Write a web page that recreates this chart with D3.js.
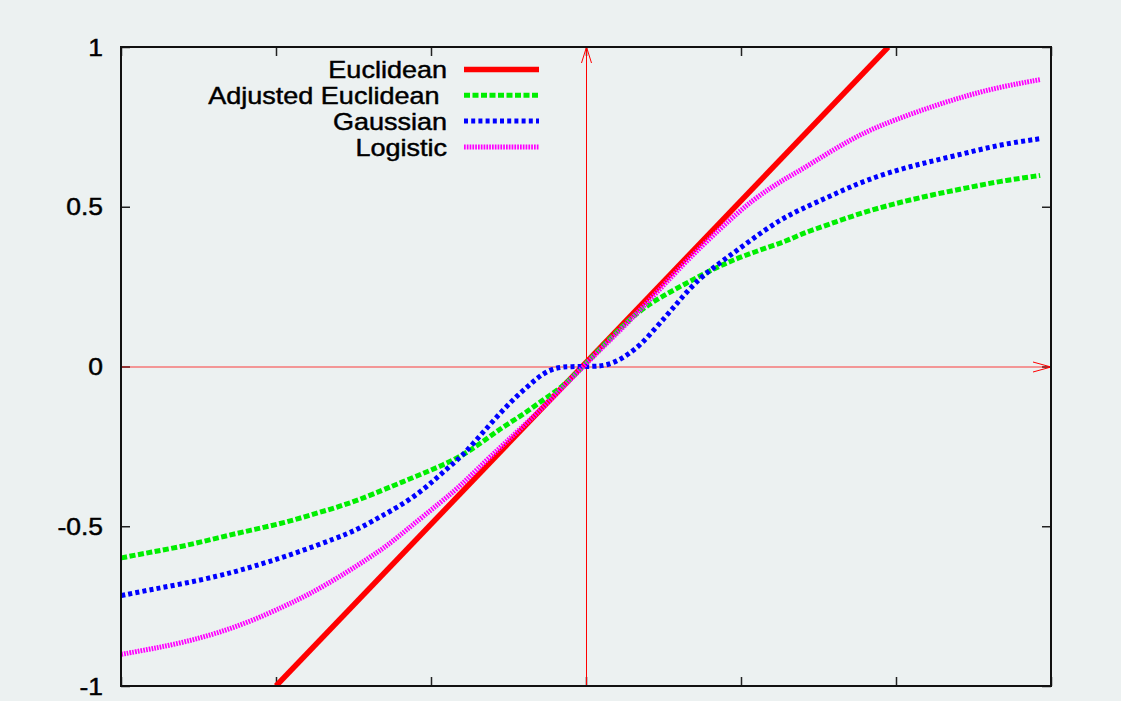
<!DOCTYPE html>
<html>
<head>
<meta charset="utf-8">
<script src="https://cdn.jsdelivr.net/npm/d3@7"></script>
<style>
  body { margin: 0; background: #ecf1f1; }
  svg { display: block; }
  text { font-family: "Liberation Sans", Arial, sans-serif; fill: #000; stroke: #000; stroke-width: 0.45; }
</style>
</head>
<body>
<svg class="chart"></svg>
<script>
// values
var seriesNames = ["Euclidean", "Adjusted Euclidean ", "Gaussian", "Logistic"];

var euclidean = [[-2.0, -1], [1.95, 1]];

var adjusted = [
  [-2.998, -0.599], [-2.805, -0.581], [-2.59, -0.562], [-2.374, -0.536], [-2.159, -0.512],
  [-1.944, -0.489], [-1.729, -0.458], [-1.514, -0.427], [-1.312, -0.387], [-1.183, -0.361],
  [-1.054, -0.335], [-0.925, -0.309], [-0.795, -0.278], [-0.666, -0.236], [-0.537, -0.189],
  [-0.409, -0.152], [-0.28, -0.105], [-0.15, -0.064], [-0.02, 0], [0.215, 0.118],
  [0.323, 0.165], [0.43, 0.202], [0.538, 0.232], [0.645, 0.26], [0.753, 0.288],
  [0.86, 0.314], [0.968, 0.337], [1.075, 0.356], [1.183, 0.375], [1.29, 0.392],
  [1.381, 0.413], [1.484, 0.431], [1.596, 0.45], [1.81, 0.486], [2.026, 0.514],
  [2.24, 0.538], [2.456, 0.559], [2.67, 0.58], [2.93, 0.598]
];

var gaussian = [
  [-2.998, -0.717], [-2.805, -0.698], [-2.59, -0.679], [-2.374, -0.656], [-2.224, -0.637],
  [-2.052, -0.612], [-1.837, -0.578], [-1.621, -0.539], [-1.471, -0.51], [-1.342, -0.474],
  [-1.269, -0.455], [-1.161, -0.424], [-1.054, -0.387], [-0.968, -0.351], [-0.882, -0.314],
  [-0.795, -0.278], [-0.71, -0.231], [-0.624, -0.184], [-0.537, -0.137], [-0.452, -0.095],
  [-0.366, -0.058], [-0.28, -0.022], [-0.194, -0.003], [-0.1, 0], [0.05, 0],
  [0.129, 0.003], [0.215, 0.02], [0.28, 0.041], [0.355, 0.069], [0.441, 0.116],
  [0.516, 0.157], [0.581, 0.194], [0.645, 0.231], [0.753, 0.285], [0.903, 0.338],
  [1.075, 0.40], [1.247, 0.458], [1.381, 0.491], [1.596, 0.538], [1.81, 0.585],
  [2.09, 0.627], [2.37, 0.658], [2.67, 0.695], [2.93, 0.713]
];

var logistic = [
  [-2.998, -0.901], [-2.805, -0.884], [-2.59, -0.863], [-2.374, -0.834], [-2.159, -0.797],
  [-1.944, -0.75], [-1.794, -0.715], [-1.621, -0.667], [-1.471, -0.622], [-1.342, -0.58],
  [-1.269, -0.556], [-1.054, -0.47], [-0.839, -0.387], [-0.71, -0.325], [-0.516, -0.236],
  [-0.3, -0.14], [-0.02, 0], [0.3, 0.15], [0.645, 0.33], [0.86, 0.429],
  [1.075, 0.523], [1.29, 0.59], [1.381, 0.613], [1.596, 0.679], [1.81, 0.737],
  [2.026, 0.778], [2.24, 0.815], [2.456, 0.848], [2.67, 0.875], [2.93, 0.898]
];

var xTicks = [-3, -2, -1, 0, 1, 2, 3];
var yTicks = [-1, -0.5, 0, 0.5, 1];
var yTickLabels = ["-1", "-0.5", "0", "0.5", "1"];

var W = 1121, H = 701;
var sx = 1.15; // text in the picture is stretched sideways

var svg = d3.select('svg.chart')
  .attr("width", W)
  .attr("height", H);

svg.append("rect").attr("width", W).attr("height", H).attr("fill", "#ecf1f1");

var x = d3.scaleLinear().domain([-3, 3]).range([121, 1051]);
var y = d3.scaleLinear().domain([-1, 1]).range([686, 47]);

svg.append("clipPath").attr("id", "plot")
  .append("rect")
  .attr("x", x(-3)).attr("y", y(1))
  .attr("width", x(3) - x(-3)).attr("height", y(-1) - y(1));

// ticks on all four sides, pointing in
var tickStyle = function (g) {
  g.select(".domain").remove();
  g.selectAll(".tick line").attr("stroke", "#222").attr("stroke-width", 1.5);
};

svg.append("g").attr("transform", "translate(0," + y(-1) + ")")
  .call(d3.axisBottom(x).tickValues(xTicks).tickSize(-9).tickFormat(""))
  .call(tickStyle);
svg.append("g").attr("transform", "translate(0," + y(1) + ")")
  .call(d3.axisTop(x).tickValues(xTicks).tickSize(-9).tickFormat(""))
  .call(tickStyle);
svg.append("g").attr("transform", "translate(" + x(3) + ",0)")
  .call(d3.axisRight(y).tickValues(yTicks).tickSize(-9).tickFormat(""))
  .call(tickStyle);

var left = svg.append("g").attr("transform", "translate(" + x(-3) + ",0)")
  .call(d3.axisLeft(y).tickValues(yTicks).tickSize(-9).tickPadding(18)
    .tickFormat(function (d, i) { return yTickLabels[i]; }))
  .call(tickStyle);

left.selectAll(".tick text")
  .attr("font-size", 23)
  .attr("font-family", null)
  .attr("fill", "#000")
  .attr("x", -18 / sx)
  .attr("dy", "0.35em")
  .attr("transform", "scale(" + sx + ",1)");

// zero axes with arrow heads
var axisG = svg.append("g").attr("stroke", "#ff0000").attr("fill", "none");

axisG.append("line")
  .attr("x1", x(-3)).attr("x2", x(3))
  .attr("y1", y(0) + 0.5).attr("y2", y(0) + 0.5)
  .attr("stroke-width", 1.1).attr("stroke-opacity", 0.75);
axisG.append("path")
  .attr("d", "M" + (x(3) - 18) + "," + (y(0) - 4.5) + "L" + x(3) + "," + (y(0) + 0.5) +
    "L" + (x(3) - 18) + "," + (y(0) + 5.5))
  .attr("stroke-width", 1);

axisG.append("line")
  .attr("x1", x(0) + 0.5).attr("x2", x(0) + 0.5)
  .attr("y1", y(-1)).attr("y2", y(1))
  .attr("stroke-width", 1);
axisG.append("path")
  .attr("d", "M" + (x(0) - 4.5) + "," + (y(1) + 16) + "L" + (x(0) + 0.5) + "," + y(1) +
    "L" + (x(0) + 5.5) + "," + (y(1) + 16))
  .attr("stroke-width", 1);

// curves, smoothed over the hand-read points
var line = d3.line()
  .x(function (d) { return x(d[0]); })
  .y(function (d) { return y(d[1]); })
  .curve(d3.curveBasis);

var series = [
  { name: seriesNames[0], data: euclidean, color: "#ff0000", width: 5.5, dash: null },
  { name: seriesNames[1], data: adjusted, color: "#00ee00", width: 5, dash: "6,2.5" },
  { name: seriesNames[2], data: gaussian, color: "#0000ff", width: 5, dash: "4,3.2" },
  { name: seriesNames[3], data: logistic, color: "#ff00ff", width: 5, dash: "1.7,1.1" }
];

var curves = svg.append("g").attr("clip-path", "url(#plot)");

series.forEach(function (s) {
  curves.append("path")
    .datum(s.data)
    .attr("d", line)
    .attr("fill", "none")
    .attr("stroke", s.color)
    .attr("stroke-width", s.width)
    .attr("stroke-dasharray", s.dash)
    .attr("stroke-linecap", "butt");
});

// legend, top left inside the frame
var legend = svg.append("g");
series.forEach(function (s, i) {
  var ly = 69.5 + i * 25.8;
  legend.append("line")
    .attr("x1", 464).attr("x2", 539)
    .attr("y1", ly).attr("y2", ly)
    .attr("stroke", s.color)
    .attr("stroke-width", s.width)
    .attr("stroke-dasharray", s.dash);
  legend.append("text")
    .attr("transform", "translate(447," + (ly + 8.7) + ") scale(" + sx + ",1)")
    .attr("text-anchor", "end")
    .attr("font-size", 23.5)
    .attr("xml:space", "preserve")
    .text(s.name);
});

// frame
svg.append("rect")
  .attr("x", x(-3)).attr("y", y(1))
  .attr("width", x(3) - x(-3)).attr("height", y(-1) - y(1))
  .attr("fill", "none")
  .attr("stroke", "#111")
  .attr("stroke-width", 2);
</script>
</body>
</html>
